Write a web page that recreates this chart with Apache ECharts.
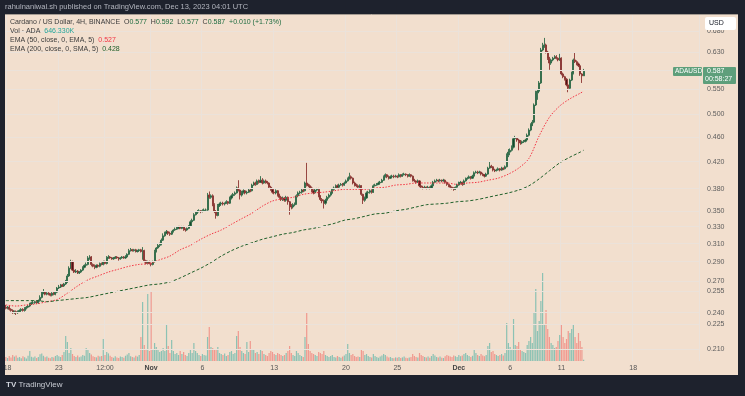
<!DOCTYPE html>
<html>
<head>
<meta charset="utf-8">
<script src="https://cdn.jsdelivr.net/npm/echarts@6/dist/echarts.min.js"></script>
<style>
  html, body { margin: 0; padding: 0; background: #1e222d; }
  #chart { width: 745px; height: 396px; }
</style>
</head>
<body>
<div id="chart"></div>
<script>
// ADA/USD 4H candles, Oct 17 20:00 -> Dec 13 04:00 (one value per 4h bar)
const firstOpen = 0.245;
const closes = [
  .244,.245,.243,.242,.240,.241,.240,.241,.242,.243,
  .242,.244,.245,.246,.248,.249,.249,.250,.249,.251,
  .254,.258,.259,.257,.258,.257,.256,.258,.257,.259,
  .263,.264,.266,.265,.267,.269,.275,.283,.290,.281,
  .279,.280,.278,.279,.281,.284,.286,.287,.294,.295,
  .287,.285,.284,.286,.285,.288,.287,.290,.288,.294,
  .295,.294,.293,.294,.295,.294,.293,.294,.295,.294,
  .295,.298,.302,.303,.302,.303,.301,.302,.303,.301,
  .302,.291,.288,.290,.288,.287,.290,.301,.305,.308,
  .309,.314,.319,.322,.324,.322,.321,.324,.326,.327,
  .328,.330,.328,.330,.327,.326,.328,.331,.336,.338,
  .345,.347,.349,.350,.349,.350,.351,.351,.371,.368,
  .370,.358,.349,.344,.357,.359,.360,.359,.360,.362,
  .360,.367,.370,.372,.374,.381,.378,.371,.375,.377,
  .374,.375,.378,.377,.385,.388,.386,.391,.389,.392,
  .388,.391,.389,.388,.382,.379,.375,.374,.377,.371,
  .368,.365,.367,.364,.368,.362,.357,.355,.358,.359,
  .370,.374,.375,.378,.377,.388,.385,.384,.381,.377,
  .374,.378,.379,.370,.365,.363,.360,.364,.368,.371,
  .374,.379,.381,.384,.382,.385,.386,.385,.388,.391,
  .394,.397,.395,.388,.385,.384,.382,.384,.372,.364,
  .367,.374,.375,.377,.375,.384,.385,.386,.388,.389,
  .392,.397,.400,.397,.395,.397,.398,.397,.398,.397,
  .400,.398,.400,.401,.400,.398,.400,.398,.392,.391,
  .389,.391,.384,.382,.381,.382,.381,.382,.381,.384,
  .389,.391,.392,.391,.392,.391,.392,.389,.386,.384,
  .382,.381,.379,.382,.385,.388,.389,.386,.391,.394,
  .395,.397,.395,.398,.403,.404,.403,.404,.401,.400,
  .398,.401,.410,.413,.412,.407,.406,.407,.409,.407,
  .410,.409,.412,.430,.435,.438,.443,.457,.458,.455,
  .453,.450,.452,.453,.455,.463,.472,.481,.486,.518,
  .543,.545,.562,.635,.645,.647,.630,.616,.605,.612,
  .616,.619,.616,.612,.616,.581,.575,.570,.558,.551,
  .568,.583,.612,.608,.603,.599,.581,.577,.587
];
const highs = [
  .247,.246,.246,.244,.243,.242,.242,.242,.243,.244,
  .244,.245,.246,.247,.249,.250,.251,.251,.251,.252,
  .256,.260,.262,.260,.259,.259,.258,.259,.259,.260,
  .264,.266,.267,.267,.268,.271,.277,.285,.292,.291,
  .283,.282,.281,.280,.282,.285,.287,.289,.296,.297,
  .296,.288,.287,.287,.287,.289,.289,.291,.291,.296,
  .297,.296,.295,.295,.296,.296,.295,.295,.296,.296,
  .297,.299,.304,.305,.304,.304,.304,.303,.304,.304,
  .306,.303,.292,.291,.291,.289,.291,.303,.306,.310,
  .311,.316,.322,.324,.326,.325,.324,.325,.327,.329,
  .330,.331,.331,.331,.331,.328,.329,.332,.338,.340,
  .347,.349,.351,.352,.351,.352,.353,.353,.374,.376,
  .372,.372,.360,.351,.359,.361,.362,.362,.361,.364,
  .363,.369,.372,.374,.376,.383,.392,.379,.377,.379,
  .378,.377,.380,.380,.387,.390,.390,.393,.393,.398,
  .395,.393,.393,.391,.389,.384,.381,.377,.379,.378,
  .373,.370,.369,.368,.370,.369,.363,.359,.360,.361,
  .372,.376,.377,.380,.380,.390,.418,.387,.386,.383,
  .379,.380,.381,.381,.371,.367,.365,.366,.370,.373,
  .376,.381,.383,.386,.386,.387,.388,.388,.390,.393,
  .396,.403,.399,.396,.390,.387,.386,.386,.385,.373,
  .369,.376,.377,.379,.379,.386,.387,.388,.390,.391,
  .394,.399,.402,.401,.399,.399,.400,.400,.400,.399,
  .402,.401,.402,.403,.402,.401,.402,.401,.399,.394,
  .392,.393,.392,.386,.384,.384,.383,.384,.383,.386,
  .391,.393,.394,.393,.394,.393,.394,.393,.390,.387,
  .385,.383,.382,.383,.387,.390,.391,.390,.393,.396,
  .397,.399,.398,.400,.405,.406,.406,.406,.405,.403,
  .401,.403,.412,.420,.415,.413,.409,.409,.411,.410,
  .412,.411,.414,.433,.440,.441,.446,.460,.462,.460,
  .457,.455,.454,.455,.457,.466,.475,.484,.490,.521,
  .546,.548,.566,.640,.652,.664,.650,.633,.619,.615,
  .619,.623,.623,.618,.626,.618,.584,.577,.572,.560,
  .571,.586,.615,.628,.611,.606,.601,.583,.592
];
const lows = [
  .243,.243,.242,.241,.239,.239,.238,.239,.240,.241,
  .241,.241,.243,.244,.245,.247,.248,.248,.248,.248,
  .250,.253,.257,.256,.256,.256,.255,.255,.256,.256,
  .258,.262,.263,.264,.264,.266,.268,.274,.282,.280,
  .278,.278,.277,.277,.278,.280,.283,.285,.286,.292,
  .285,.284,.282,.283,.284,.284,.286,.286,.287,.287,
  .293,.293,.292,.292,.293,.293,.291,.292,.293,.293,
  .293,.294,.297,.301,.301,.301,.300,.300,.301,.300,
  .292,.289,.287,.287,.287,.285,.286,.289,.300,.304,
  .306,.308,.313,.318,.321,.320,.319,.320,.323,.325,
  .326,.327,.327,.327,.325,.324,.325,.327,.330,.335,
  .337,.344,.346,.348,.347,.348,.349,.349,.350,.366,
  .366,.356,.347,.340,.343,.355,.357,.357,.357,.359,
  .358,.359,.365,.369,.370,.373,.376,.365,.369,.373,
  .372,.372,.374,.375,.376,.384,.384,.385,.387,.388,
  .386,.387,.387,.386,.380,.377,.373,.372,.372,.369,
  .366,.363,.363,.362,.362,.358,.345,.352,.353,.356,
  .358,.368,.372,.373,.375,.376,.383,.382,.379,.375,
  .372,.373,.376,.368,.363,.360,.353,.358,.362,.366,
  .369,.373,.377,.380,.380,.381,.384,.383,.384,.387,
  .390,.393,.393,.386,.383,.382,.380,.381,.370,.359,
  .362,.366,.372,.373,.373,.374,.383,.384,.385,.387,
  .388,.391,.396,.395,.393,.394,.396,.395,.396,.395,
  .396,.396,.397,.399,.398,.396,.397,.396,.390,.389,
  .387,.388,.382,.380,.379,.380,.379,.380,.379,.380,
  .383,.388,.390,.389,.390,.389,.390,.387,.384,.382,
  .380,.379,.377,.378,.381,.384,.387,.384,.385,.390,
  .393,.394,.393,.394,.397,.402,.401,.402,.399,.398,
  .396,.397,.400,.409,.410,.405,.404,.405,.406,.405,
  .406,.407,.408,.411,.427,.430,.436,.441,.455,.452,
  .438,.447,.448,.450,.451,.453,.461,.470,.479,.484,
  .516,.528,.541,.560,.632,.640,.627,.612,.590,.601,
  .609,.614,.613,.609,.610,.578,.572,.567,.555,.543,
  .549,.566,.580,.605,.600,.596,.577,.562,.577
];
// volume in millions of ADA
const volumes = [
  2.0,1.5,2.5,1.8,3.0,2.2,2.8,1.6,2.0,1.4,
  2.4,1.9,1.3,2.6,5.0,2.1,1.7,2.3,1.5,2.0,
  3.4,3.8,2.6,1.9,2.2,1.6,1.4,2.0,1.8,2.5,
  3.0,2.4,2.0,3.0,4.5,12.5,9.5,4.0,6.5,3.5,
  2.5,2.0,2.8,1.9,2.2,3.0,2.6,6.5,6.0,4.0,
  3.2,2.4,2.0,1.8,2.6,2.2,2.5,11.0,3.0,4.5,
  3.8,2.6,2.0,1.6,2.4,1.8,1.5,2.2,2.0,1.6,
  2.6,3.2,4.0,2.4,2.0,1.8,2.6,2.2,3.0,12.0,
  29.5,8.0,6.0,33.5,5.0,34.5,6.0,9.0,7.0,5.5,
  4.5,5.0,6.5,5.0,18.0,7.5,4.0,10.5,5.0,3.5,
  4.0,3.0,5.0,3.5,4.5,3.0,2.5,4.0,5.5,4.0,
  9.0,5.0,4.0,3.0,2.5,3.5,3.0,2.8,12.0,17.0,
  7.0,6.5,6.0,5.5,7.0,4.0,3.5,3.0,3.8,2.5,
  3.0,4.5,5.0,3.5,4.0,12.5,15.0,7.0,5.0,4.0,
  3.5,9.5,4.5,10.0,6.0,5.5,4.0,4.5,3.5,6.0,
  5.0,3.5,3.0,2.5,4.0,5.0,4.5,3.5,3.0,4.0,
  3.5,3.0,2.5,3.0,4.0,5.0,7.5,4.0,3.0,2.5,
  5.0,4.0,3.0,2.5,2.0,12.0,24.0,8.5,5.0,4.0,
  3.5,3.0,2.5,4.5,4.0,3.5,5.0,3.0,2.5,2.0,
  2.5,3.0,2.0,1.8,2.5,2.0,1.6,2.2,2.8,3.5,
  8.5,4.0,3.0,3.5,2.5,2.0,2.2,2.0,6.0,5.0,
  3.0,3.5,2.5,2.0,1.8,3.5,2.5,2.0,1.6,2.2,
  2.8,3.5,3.0,2.2,1.8,2.0,1.5,1.4,1.8,1.6,
  2.0,1.5,1.8,2.2,1.6,1.4,1.8,2.0,3.5,2.5,
  2.0,1.8,4.0,3.0,2.5,2.0,1.8,2.2,1.6,2.5,
  3.5,2.8,2.0,1.8,2.2,1.6,1.5,2.4,3.0,2.6,
  2.2,2.0,2.8,2.4,2.0,3.0,2.4,2.8,3.5,4.0,
  3.0,2.5,2.0,2.6,5.5,4.0,3.0,2.5,3.5,2.8,
  2.4,3.0,7.5,9.0,4.5,5.0,3.5,3.0,2.5,3.0,
  3.5,2.8,4.0,19.0,9.0,7.0,6.0,21.0,8.0,7.5,
  9.5,6.0,5.0,4.5,4.0,8.0,10.0,12.0,9.0,24.0,
  36.0,15.0,20.0,30.0,44.0,18.0,25.5,16.0,12.0,9.0,
  8.0,6.5,7.0,10.0,13.0,18.0,12.0,9.0,11.0,15.0,
  14.0,16.0,18.5,12.0,9.0,14.0,10.0,7.0,0.65
];
// moving averages read once per day (bar index -> value)
const emaIdx = [0,6,12,18,24,30,36,42,48,54,60,66,72,78,84,90,96,102,108,114,120,126,132,138,144,150,156,162,168,174,180,186,192,198,204,210,216,222,228,234,240,246,252,258,264,270,276,282,288,294,300,306,312,318,324,330,336,338];
const ema50Vals = [.247,.246,.247,.248,.250,.252,.258,.265,.271,.275,.279,.282,.285,.287,.288,.292,.296,.303,.308,.315,.321,.326,.333,.340,.347,.356,.363,.366,.368,.372,.374,.375,.377,.379,.379,.379,.381,.382,.385,.386,.388,.388,.388,.388,.386,.388,.389,.392,.395,.401,.410,.425,.462,.495,.516,.530,.541,.545];
const ema200Vals = [.251,.251,.251,.251,.250,.251,.252,.253,.254,.256,.258,.260,.262,.264,.266,.267,.269,.273,.278,.283,.289,.296,.302,.307,.311,.315,.318,.321,.323,.326,.328,.331,.334,.338,.340,.343,.346,.347,.350,.352,.355,.358,.359,.360,.362,.363,.365,.368,.371,.374,.378,.384,.394,.406,.418,.427,.435,.438];
// price scale labels and date labels
const yTicks = [0.680,0.630,0.550,0.500,0.460,0.420,0.380,0.350,0.330,0.310,0.290,0.270,0.255,0.240,0.225,0.210];
const labelIdx = [1,31,58,85,115,157,199,229,265,295,325,367];
const labelText = ['18','23','12:00','Nov','6','13','20','25','Dec','6','11','18'];

const N = 406; // bars incl. empty space on the right
const cats = Array.from({ length: N }, (_, i) => String(i));
const opens = closes.map((c, i) => (i === 0 ? firstOpen : closes[i - 1]));
const candleData = closes.map((c, i) => [opens[i], c, lows[i], highs[i]]);
const volData = volumes.map((v, i) => ({
  value: v,
  itemStyle: { color: closes[i] >= opens[i] ? 'rgba(38,166,154,0.5)' : 'rgba(239,83,80,0.5)' }
}));
const ema50Data = new Array(N).fill(null);
const ema200Data = new Array(N).fill(null);
emaIdx.forEach((k, j) => { ema50Data[k] = ema50Vals[j]; ema200Data[k] = ema200Vals[j]; });

const gridCol = '#ebe2da';
const font = 'Liberation Sans, Arial, sans-serif';
const last = closes.length - 1;

const chart = echarts.init(document.getElementById('chart'));
chart.setOption({
  animation: false,
  backgroundColor: '#f2dfce',
  textStyle: { fontFamily: font },
  grid: [
    { left: 5, right: 46, top: 14, bottom: 35 },
    { left: 5, right: 46, top: 250, bottom: 35 }
  ],
  xAxis: [
    {
      type: 'category', data: cats, gridIndex: 0, boundaryGap: true,
      axisLine: { show: false }, axisTick: { show: false },
      axisLabel: {
        interval: (i) => labelIdx.includes(i),
        formatter: (v, i) => {
          const k = labelIdx.indexOf(i);
          const t = k >= 0 ? labelText[k] : '';
          return (t === 'Nov' || t === 'Dec') ? '{m|' + t + '}' : t;
        },
        color: '#555', fontSize: 7, margin: 4,
        rich: { m: { fontWeight: 'bold', color: '#444', fontSize: 7 } }
      },
      splitLine: { show: true, interval: (i) => labelIdx.includes(i), lineStyle: { color: gridCol, width: 1 } }
    },
    { type: 'category', data: cats, gridIndex: 1, show: false, boundaryGap: true }
  ],
  yAxis: [
    { type: 'log', logBase: 10, min: 0.2007, max: 0.7255, gridIndex: 0, show: false },
    { type: 'value', min: 0, max: 55.5, gridIndex: 1, show: false }
  ],
  series: [
    {
      type: 'line', xAxisIndex: 0, yAxisIndex: 0, data: new Array(N).fill(null), z: 1, silent: true,
      markLine: {
        silent: true, symbol: 'none', animation: false,
        lineStyle: { color: gridCol, width: 1, type: 'solid' },
        label: { show: true, position: 'end', distance: 8, color: '#5d5d5d', fontSize: 7 },
        data: yTicks.map((v) => ({ yAxis: v, label: { formatter: v.toFixed(3) } }))
          .concat([{ yAxis: closes[last], label: { show: false } }])
      }
    },
    {
      type: 'bar', xAxisIndex: 1, yAxisIndex: 1, data: volData, barWidth: 1.2, z: 1
    },
    {
      type: 'candlestick', xAxisIndex: 0, yAxisIndex: 0, data: candleData, barWidth: 1.6, z: 3,
      itemStyle: {
        color: '#17482c', color0: '#4a1418',
        borderColor: '#2f6b48', borderColor0: '#8c3632', borderWidth: 0.9
      }
    },
    {
      type: 'line', xAxisIndex: 0, yAxisIndex: 0, data: ema50Data, connectNulls: true, smooth: 0.3,
      showSymbol: false, z: 4, lineStyle: { color: '#f23645', width: 1, type: [1.5, 1.5] }
    },
    {
      type: 'line', xAxisIndex: 0, yAxisIndex: 0, data: ema200Data, connectNulls: true, smooth: 0.3,
      showSymbol: false, z: 4, lineStyle: { color: '#1f5f2a', width: 1, type: [3, 2] }
    }
  ],
  graphic: [
    // dark frame
    { type: 'rect', shape: { x: 0, y: 0, width: 745, height: 14 }, style: { fill: '#1e222d' }, z: 100 },
    { type: 'rect', shape: { x: 0, y: 0, width: 5, height: 396 }, style: { fill: '#1e222d' }, z: 100 },
    { type: 'rect', shape: { x: 738, y: 0, width: 7, height: 396 }, style: { fill: '#1e222d' }, z: 100 },
    { type: 'rect', shape: { x: 0, y: 375, width: 745, height: 21 }, style: { fill: '#1e222d' }, z: 100 },
    { type: 'line', shape: { x1: 5, y1: 14.5, x2: 738, y2: 14.5 }, style: { stroke: '#a49b92', lineWidth: 1 }, z: 101 },
    {
      type: 'text', left: 5, top: 3, z: 102,
      style: { text: 'rahulnaniwal.sh published on TradingView.com, Dec 13, 2023 04:01 UTC', fill: '#b2b5be', fontSize: 7.5, fontFamily: font }
    },
    {
      type: 'text', left: 6, top: 381, z: 102,
      style: {
        text: '{l|TV} TradingView', fill: '#c9ccd4', fontSize: 8, fontFamily: font,
        rich: { l: { fontWeight: 'bold', fontSize: 8, fill: '#d1d4dc' } }
      }
    },
    // legend
    {
      type: 'text', left: 10, top: 19, z: 102,
      style: {
        text: '{t|Cardano / US Dollar, 4H, BINANCE}  {k|O}{v|0.577}  {k|H}{v|0.592}  {k|L}{v|0.577}  {k|C}{v|0.587}  {v|+0.010 (+1.73%)}',
        fontSize: 7, fontFamily: font,
        rich: { t: { fill: '#3c3c3c', fontSize: 7 }, k: { fill: '#3c3c3c', fontSize: 7 }, v: { fill: '#1c6b3e', fontSize: 7 } }
      }
    },
    {
      type: 'text', left: 10, top: 28, z: 102,
      style: { text: '{t|Vol · ADA}  {v|646.330K}', fontSize: 7, fontFamily: font,
        rich: { t: { fill: '#3c3c3c', fontSize: 7 }, v: { fill: '#26a69a', fontSize: 7 } } }
    },
    {
      type: 'text', left: 10, top: 37, z: 102,
      style: { text: '{t|EMA (50, close, 0, EMA, 5)}  {v|0.527}', fontSize: 7, fontFamily: font,
        rich: { t: { fill: '#3c3c3c', fontSize: 7 }, v: { fill: '#f23645', fontSize: 7 } } }
    },
    {
      type: 'text', left: 10, top: 46, z: 102,
      style: { text: '{t|EMA (200, close, 0, SMA, 5)}  {v|0.428}', fontSize: 7, fontFamily: font,
        rich: { t: { fill: '#3c3c3c', fontSize: 7 }, v: { fill: '#1f5f2a', fontSize: 7 } } }
    },
    // price scale boxes
    { type: 'rect', shape: { x: 705, y: 17, width: 31, height: 13, r: 2 }, style: { fill: '#ffffff' }, z: 102 },
    { type: 'text', left: 709, top: 20, z: 103, style: { text: 'USD', fill: '#131722', fontSize: 7, fontFamily: font } },
    { type: 'rect', shape: { x: 703, y: 67, width: 33, height: 17, r: 1 }, style: { fill: '#5e9f7b' }, z: 102 },
    { type: 'text', left: 707, top: 68, z: 103, style: { text: closes[last].toFixed(3), fill: '#ffffff', fontSize: 7, fontFamily: font } },
    { type: 'text', left: 705, top: 76, z: 103, style: { text: '00:58:27', fill: '#ffffff', fontSize: 7, fontFamily: font } },
    { type: 'rect', shape: { x: 673, y: 67, width: 29, height: 9, r: 1 }, style: { fill: '#5e9f7b' }, z: 102 },
    { type: 'text', left: 675, top: 68, z: 103, style: { text: 'ADAUSD', fill: '#ffffff', fontSize: 6.5, fontFamily: font } }
  ]
});
</script>
</body>
</html>
